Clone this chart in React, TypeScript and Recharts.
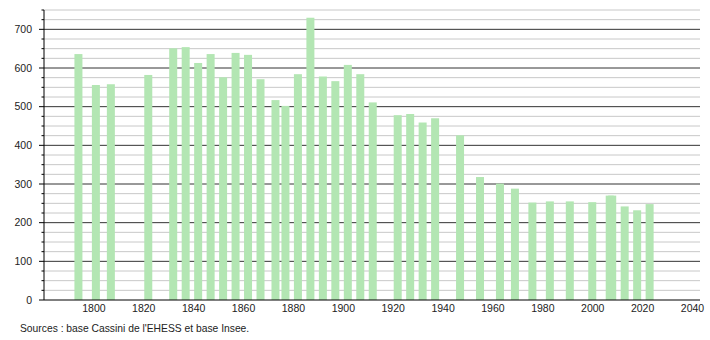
import React from "react";
import { BarChart, Bar, XAxis, YAxis, CartesianGrid } from "recharts";

// census years and population
const years = [
  1793, 1800, 1806, 1821, 1831, 1836, 1841, 1846, 1851, 1856, 1861, 1866,
  1872, 1876, 1881, 1886, 1891, 1896, 1901, 1906, 1911, 1921, 1926, 1931,
  1936, 1946, 1954, 1962, 1968, 1975, 1982, 1990, 1999, 2006, 2007, 2012,
  2017, 2022,
];
const population = [
  636, 556, 558, 582, 651, 654, 613, 636, 576, 639, 634, 571,
  517, 502, 584, 730, 578, 566, 608, 584, 511, 478, 481, 459,
  470, 426, 318, 301, 288, 252, 255, 255, 253, 270, 270, 242,
  232, 248,
];

const xTicks = [1800, 1820, 1840, 1860, 1880, 1900, 1920, 1940, 1960, 1980, 2000, 2020, 2040];
const majorY = [100, 200, 300, 400, 500, 600, 700];
const minorY = [
  25, 50, 75, 125, 150, 175, 225, 250, 275, 325, 350, 375, 425, 450, 475,
  525, 550, 575, 625, 650, 675, 725, 750,
];
const yTicks = [0, ...majorY, ...minorY].sort((a, b) => a - b);

const data = years.map((year, i) => ({ year, population: population[i] }));

const FONT = '"Liberation Sans", Arial, sans-serif';
const BAR_W = 8;
const BAR_SHIFT = 2; // source draws bars a touch right of the year

const YTick = (props: any) => {
  const { x, y, payload } = props;
  const major = payload.value % 100 === 0;
  return (
    <g>
      <line x1={x - (major ? 5 : 2.5)} x2={x} y1={y} y2={y} stroke="#000" strokeWidth={1} />
      {major && (
        <text x={x - 12} y={y} dy="0.35em" textAnchor="end" fontSize={10.5} fill="#222" fontFamily={FONT}>
          {payload.value}
        </text>
      )}
    </g>
  );
};

// numeric axis squeezes the bars, so widen them around their centre
const WideBar = (props: any) => {
  const { x, y, width, height, fill } = props;
  const cx = x + width / 2 + BAR_SHIFT;
  return <rect x={cx - BAR_W / 2} y={y} width={BAR_W} height={height} fill={fill} />;
};

export default function App() {
  return (
    <div style={{ position: "fixed", left: 0, top: 0, width: 710, height: 340, background: "#fff" }}>
      <BarChart
        width={710}
        height={340}
        data={data}
        margin={{ top: 10, right: 10, bottom: 20, left: 0 }}
      >
        <CartesianGrid horizontalValues={minorY} vertical={false} stroke="#c8c8c8" />
        <CartesianGrid horizontalValues={majorY} vertical={false} stroke="#333" />
        <XAxis
          dataKey="year"
          type="number"
          domain={[1780, 2043]}
          ticks={xTicks}
          allowDataOverflow
          tickLine={false}
          tickSize={0}
          tickMargin={5}
          height={20}
          axisLine={{ stroke: "#000" }}
          tick={{ fontSize: 10.5, fill: "#222", fontFamily: FONT }}
        />
        <YAxis
          type="number"
          domain={[0, 750]}
          ticks={yTicks}
          interval={0}
          width={44}
          tickLine={false}
          tickSize={0}
          tickMargin={0}
          axisLine={{ stroke: "#000" }}
          tick={<YTick />}
        />
        <Bar
          dataKey="population"
          fill="#b3e6b3"
          shape={<WideBar />}
          isAnimationActive={false}
        />
      </BarChart>
      <div
        style={{
          position: "absolute",
          left: 20,
          top: 323,
          fontFamily: FONT,
          fontSize: 10.3,
          color: "#222",
          whiteSpace: "nowrap",
        }}
      >
        Sources : base Cassini de l'EHESS et base Insee.
      </div>
    </div>
  );
}
